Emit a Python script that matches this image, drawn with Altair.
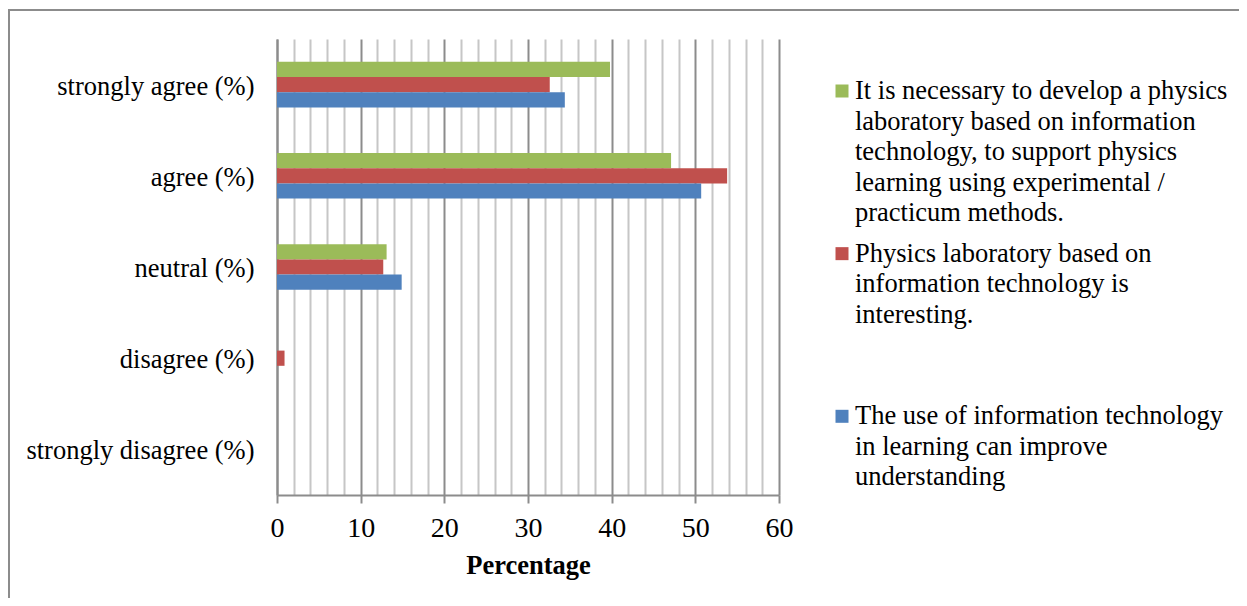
import altair as alt
import pandas as pd

# ---- data ----
categories = ["strongly agree (%)", "agree (%)", "neutral (%)", "disagree (%)", "strongly disagree (%)"]
series_keys = ["necessary", "interesting", "improve"]
necessary = [39.8, 47.1, 13.1, 0.0, 0.0]
interesting = [32.6, 53.8, 12.7, 0.9, 0.0]
improve = [34.4, 50.7, 14.9, 0.0, 0.0]
legend_lines = [
    ["It is necessary to develop a physics", "laboratory based on information",
     "technology, to support physics", "learning using experimental /", "practicum methods."],
    ["Physics laboratory based on", "information technology is", "interesting."],
    ["The use of information technology", "in learning can improve", "understanding"],
]
colors = ["#9BBB59", "#C0504D", "#4F81BD"]
x_ticks = list(range(0, 61, 2))

FONT = "Liberation Serif"
FS = 26.5

rows = []
for key, vals in zip(series_keys, [necessary, interesting, improve]):
    for c, v in zip(categories, vals):
        rows.append({"category": c, "series": key, "value": v})
bars_df = pd.DataFrame(rows)

legend_df = pd.DataFrame({
    "series": series_keys,
    "text": ["\n".join(l) for l in legend_lines],
    "idx": [0, 1, 2],
    "idx2": [0, 1, 2],
})

color_scale = alt.Scale(domain=series_keys, range=colors)
major = "datum.value % 10 === 0"

bars = alt.Chart(bars_df).mark_bar().encode(
    x=alt.X("value:Q", scale=alt.Scale(domain=[0, 60], nice=False),
            axis=alt.Axis(
                values=x_ticks, grid=True,
                gridColor={"condition": {"test": major, "value": "#8c8c8c"}, "value": "#c6c6c6"},
                gridWidth=2,
                tickColor={"condition": {"test": major, "value": "#8c8c8c"}, "value": "transparent"},
                tickSize=8, tickWidth=2,
                domainColor="#8c8c8c", domainWidth=2,
                labelExpr="datum.value % 10 === 0 ? datum.label : ''",
                labelOverlap=False, labelFlush=False,
                labelFont=FONT, labelFontSize=28, labelColor="black",
                labelPadding=11,
                title="Percentage", titleFont=FONT, titleFontSize=FS, titleFontWeight="bold",
                titleColor="black", titleBaseline="alphabetic", titleY=78)),
    y=alt.Y("category:N", sort=categories,
            scale=alt.Scale(paddingInner=0.5, paddingOuter=0.25),
            axis=alt.Axis(title=None, ticks=False, domainColor="#8c8c8c", domainWidth=2,
                          labelFont=FONT, labelFontSize=FS, labelColor="black",
                          labelPadding=23, labelLimit=0, labelOffset=2, grid=False)),
    yOffset=alt.YOffset("series:N", sort=series_keys),
    color=alt.Color("series:N", scale=color_scale, legend=None),
)

leg_text = alt.Chart(legend_df).mark_text(
    align="left", baseline="alphabetic", lineBreak="\n", lineHeight=30.6,
    font=FONT, fontSize=FS, color="black"
).encode(
    x=alt.value(578),
    y=alt.Y("idx:O", scale=alt.Scale(type="point", domain=[0, 1, 2], range=[60, 385.3], padding=0),
            axis=None),
    text="text:N",
)

leg_sym = alt.Chart(legend_df).mark_square(size=169, opacity=1).encode(
    x=alt.value(565),
    y=alt.Y("idx2:O", scale=alt.Scale(type="point", domain=[0, 1, 2], range=[52, 377.3], padding=0),
            axis=None),
    color=alt.Color("series:N", scale=color_scale, legend=None),
)

frame = alt.Chart(pd.DataFrame({"f": [0]})).mark_rect(
    fill="transparent", stroke="#8c8c8c", strokeWidth=2
).encode(
    x=alt.value(-268), x2=alt.value(975), y=alt.value(-29), y2=alt.value(620)
)

chart = alt.layer(frame, bars, leg_sym, leg_text).resolve_scale(
    y="independent"
).properties(
    width=502, height=456,
    autosize=alt.AutoSizeParams(type="none"),
    padding={"left": 269, "top": 31, "right": 460, "bottom": 103},
    background="white",
).configure_view(stroke=None)

chart.save("out.html", embed_options={"renderer": "svg", "actions": False})
